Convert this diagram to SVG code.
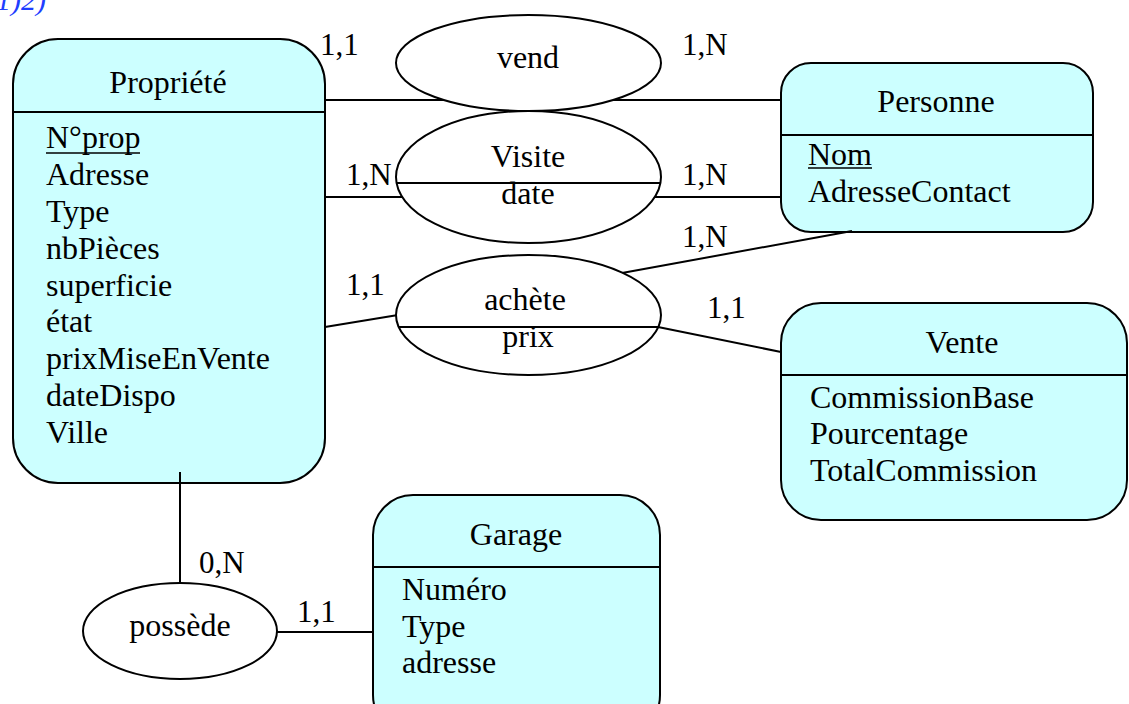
<svg xmlns="http://www.w3.org/2000/svg" width="1129" height="704" viewBox="0 0 1129 704">
<style>
  .ent { fill: #CCFFFF; stroke: #000; stroke-width: 2; }
  .rel { fill: #FFFFFF; stroke: #000; stroke-width: 2; }
  .ln { stroke: #000; stroke-width: 2; fill: none; }
  text { font-family: "Liberation Serif", "Times New Roman", serif; fill: #000; }
  .t { font-size: 32px; }
  .c { font-size: 31px; }
  .mid { text-anchor: middle; }
</style>
<rect width="1129" height="704" fill="#FFFFFF"/>
<text x="-4" y="10" style="font-size:30px;font-style:italic;fill:#1F3FFF">1)2)</text>

<g id="Propriete">
  <rect class="ent" x="13" y="39" width="312" height="444" rx="45" ry="45"/>
  <line class="ln" x1="13" y1="112" x2="325" y2="112"/>
  <text class="t mid" x="168" y="93">Propriété</text>
  <text class="t" x="46" y="148">N°prop</text>
  <line x1="46" y1="153" x2="140" y2="153" stroke="#000" stroke-width="1.6"/>
  <text class="t" x="46" y="185">Adresse</text>
  <text class="t" x="46" y="222">Type</text>
  <text class="t" x="46" y="259">nbPièces</text>
  <text class="t" x="46" y="296">superficie</text>
  <text class="t" x="46" y="332">état</text>
  <text class="t" x="46" y="369">prixMiseEnVente</text>
  <text class="t" x="46" y="406">dateDispo</text>
  <text class="t" x="46" y="443">Ville</text>
</g>

<g id="Personne">
  <rect class="ent" x="781" y="63" width="312" height="169" rx="30" ry="30"/>
  <line class="ln" x1="781" y1="135" x2="1093" y2="135"/>
  <text class="t mid" x="936" y="112">Personne</text>
  <text class="t" x="808" y="165">Nom</text>
  <line x1="808" y1="168" x2="872" y2="168" stroke="#000" stroke-width="1.6"/>
  <text class="t" x="808" y="202">AdresseContact</text>
</g>

<g id="Vente">
  <rect class="ent" x="781" y="303" width="346" height="217" rx="40" ry="40"/>
  <line class="ln" x1="781" y1="375" x2="1127" y2="375"/>
  <text class="t mid" x="962" y="353">Vente</text>
  <text class="t" x="810" y="408">CommissionBase</text>
  <text class="t" x="810" y="444">Pourcentage</text>
  <text class="t" x="810" y="481">TotalCommission</text>
</g>

<g id="Garage">
  <rect class="ent" x="373" y="495" width="287" height="240" rx="40" ry="40"/>
  <line class="ln" x1="373" y1="567" x2="660" y2="567"/>
  <text class="t mid" x="516" y="545">Garage</text>
  <text class="t" x="402" y="600">Numéro</text>
  <text class="t" x="402" y="637">Type</text>
  <text class="t" x="402" y="673">adresse</text>
</g>

<g id="connectors">
  <line class="ln" x1="325" y1="100" x2="781" y2="100"/>
  <line class="ln" x1="325" y1="197" x2="781" y2="197"/>
  <line class="ln" x1="325" y1="327" x2="398" y2="315"/>
  <line class="ln" x1="622" y1="273" x2="852" y2="231"/>
  <line class="ln" x1="658" y1="327" x2="781" y2="352"/>
  <line class="ln" x1="180" y1="472" x2="180" y2="584"/>
  <line class="ln" x1="276" y1="632" x2="373" y2="632"/>
</g>

<g id="vend">
  <ellipse class="rel" cx="528.5" cy="63" rx="132.5" ry="48"/>
  <text class="t mid" x="528" y="68">vend</text>
</g>

<g id="Visite">
  <ellipse class="rel" cx="528.5" cy="177" rx="132.5" ry="66"/>
  <line class="ln" x1="397" y1="183" x2="660" y2="183"/>
  <text class="t mid" x="528" y="167">Visite</text>
  <text class="t mid" x="528" y="204">date</text>
</g>

<g id="achete">
  <ellipse class="rel" cx="528.5" cy="315" rx="132.5" ry="60"/>
  <line class="ln" x1="398" y1="327" x2="659" y2="327"/>
  <text class="t mid" x="525" y="310">achète</text>
  <text class="t mid" x="528" y="347">prix</text>
</g>

<g id="possede">
  <ellipse class="rel" cx="180" cy="631" rx="97" ry="48"/>
  <text class="t mid" x="180" y="636">possède</text>
</g>

<g id="cardinalities">
  <text class="c" x="320" y="55">1,1</text>
  <text class="c" x="682" y="55">1,N</text>
  <text class="c" x="346" y="185">1,N</text>
  <text class="c" x="682" y="185">1,N</text>
  <text class="c" x="682" y="247">1,N</text>
  <text class="c" x="346" y="295">1,1</text>
  <text class="c" x="707" y="318">1,1</text>
  <text class="c" x="199" y="573">0,N</text>
  <text class="c" x="297" y="622">1,1</text>
</g>
</svg>
